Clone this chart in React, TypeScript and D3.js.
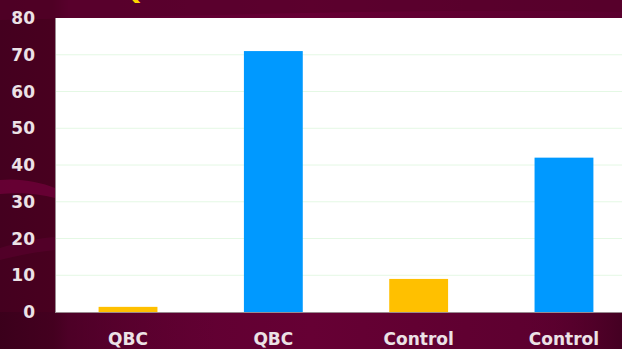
import React from "react";
import * as d3 from "d3";

const categories = ["QBC", "QBC", "Control", "Control"];
const values = [1.4, 71, 9, 42];
const barColors = ["#ffc000", "#0099ff", "#ffc000", "#0099ff"];
const yTicks = [0, 10, 20, 30, 40, 50, 60, 70, 80];
const title = "QBC vs Control Results";

const W = 622;
const H = 349;
const plot = { left: 55, top: 18, right: 637, bottom: 312 };

export default function App() {
  const keys = categories.map((_, i) => String(i));
  const x = d3
    .scaleBand<string>()
    .domain(keys)
    .range([plot.left, plot.right])
    .paddingInner(0.595)
    .paddingOuter(0.3);
  const y = d3.scaleLinear().domain([0, 80]).range([plot.bottom, plot.top]);

  const font = "'DejaVu Sans', Verdana, sans-serif";

  return (
    <svg
      width={W}
      height={H}
      style={{ position: "absolute", left: 0, top: 0, display: "block" }}
    >
      <defs>
        <linearGradient id="bg" x1="0" y1="0" x2="1" y2="0">
          <stop offset="0" stopColor="#44001f" />
          <stop offset="0.085" stopColor="#48001f" />
          <stop offset="0.11" stopColor="#5c0030" />
          <stop offset="0.5" stopColor="#660034" />
          <stop offset="1" stopColor="#5a002e" />
        </linearGradient>
        <linearGradient id="bottomShade" x1="0" y1="0" x2="1" y2="0">
          <stop offset="0" stopColor="#3a001b" stopOpacity="0.9" />
          <stop offset="0.35" stopColor="#5a002e" stopOpacity="0" />
          <stop offset="0.85" stopColor="#5a002e" stopOpacity="0" />
          <stop offset="1" stopColor="#3f001f" stopOpacity="0.8" />
        </linearGradient>
      </defs>
      <rect x={0} y={0} width={W} height={H} fill="url(#bg)" />
      <rect x={0} y={312} width={W} height={H - 312} fill="url(#bottomShade)" />
      {/* decorative waves on left */}
      <path
        d="M0,180 C20,178 40,182 55,188 L55,198 C40,194 20,192 0,194 Z"
        fill="#6e0038"
        opacity={0.8}
      />
      <path
        d="M0,248 C20,242 40,238 55,237 L55,250 C35,252 15,256 0,260 Z"
        fill="#55002a"
        opacity={0.8}
      />
      {/* top band */}
      <path d="M0,0 L622,0 L622,12 C450,8 250,14 0,20 Z" fill="#55002a" opacity={0.6} />
      <text
        x={118}
        y={-1}
        fill="#ffd400"
        fontFamily={font}
        fontWeight="bold"
        fontSize={30}
      >
        {title}
      </text>

      {/* plot area */}
      <rect
        x={plot.left}
        y={plot.top}
        width={plot.right - plot.left}
        height={plot.bottom - plot.top}
        fill="#ffffff"
      />
      {yTicks
        .filter((t) => t > 0 && t < 80)
        .map((t) => (
          <line
            key={t}
            x1={plot.left}
            x2={plot.right}
            y1={y(t)}
            y2={y(t)}
            stroke="#e4f8e4"
            strokeWidth={1}
          />
        ))}
      <line
        x1={plot.left + 0.5}
        x2={plot.left + 0.5}
        y1={plot.top}
        y2={plot.bottom}
        stroke="#9a8a90"
        strokeWidth={1}
      />
      <line
        x1={plot.left}
        x2={plot.right}
        y1={plot.bottom + 0.5}
        y2={plot.bottom + 0.5}
        stroke="#9a8a90"
        strokeWidth={1}
      />

      {values.map((v, i) => (
        <rect
          key={i}
          x={x(keys[i])}
          y={y(v)}
          width={x.bandwidth()}
          height={y(0) - y(v)}
          fill={barColors[i]}
        />
      ))}

      {yTicks.map((t) => (
        <text
          key={t}
          x={35}
          y={y(t)}
          dy="0.36em"
          textAnchor="end"
          fill="#ece2e6"
          fontFamily={font}
          fontWeight="bold"
          fontSize={17}
        >
          {t}
        </text>
      ))}

      {categories.map((c, i) => (
        <text
          key={i}
          x={(x(keys[i]) as number) + x.bandwidth() / 2}
          y={345}
          textAnchor="middle"
          fill="#ece2e6"
          fontFamily={font}
          fontWeight="bold"
          fontSize={17}
        >
          {c}
        </text>
      ))}
    </svg>
  );
}
